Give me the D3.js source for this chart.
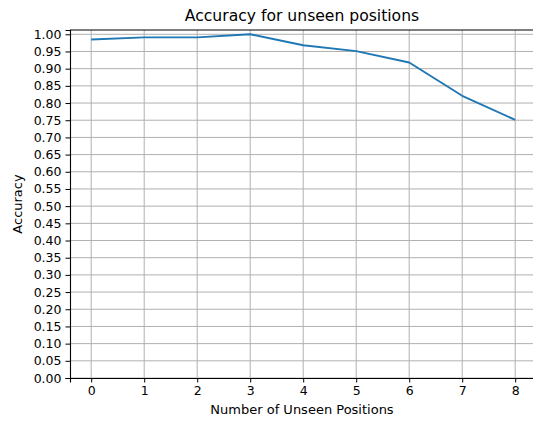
<!DOCTYPE html>
<html>
<head>
<meta charset="utf-8">
<script src="https://cdn.jsdelivr.net/npm/d3@7"></script>
<style>
  body { margin: 0; background: white; }
  text { font-family: "DejaVu Sans", sans-serif; fill: #000; }
</style>
</head>
<body>
<div id="chart"></div>
<script>
// data
const positions = [0, 1, 2, 3, 4, 5, 6, 7, 8];
const accuracy = [0.985, 0.991, 0.991, 1.0, 0.968, 0.951, 0.918, 0.821, 0.751];
const yTicks = d3.range(0, 1.0001, 0.05);

const width = 533, height = 423;
const padLeft = 70, padTop = 30, padBottom = 378;

const svg = d3.select("#chart").append("svg")
  .attr("width", width)
  .attr("height", height);

// matplotlib-like: -0.4 .. 8.4, spine beyond the picture on the right
const x = d3.scaleLinear().domain([-0.4, 8.4]).range([padLeft, padLeft + 8.8 * 53]);
const y = d3.scaleLinear().domain([0, 1.0125]).range([padBottom, padTop]);

const grid = svg.append("g");
grid.selectAll(".vg")
  .data(positions)
  .enter()
  .append("line")
    .attr("x1", d => x(d)).attr("x2", d => x(d))
    .attr("y1", padTop).attr("y2", padBottom)
    .attr("stroke", "#b0b0b0")
    .attr("stroke-width", 1);
grid.selectAll(".hg")
  .data(yTicks)
  .enter()
  .append("line")
    .attr("x1", padLeft).attr("x2", width)
    .attr("y1", d => y(d)).attr("y2", d => y(d))
    .attr("stroke", "#b0b0b0")
    .attr("stroke-width", 1);

const line = d3.line()
  .x((d, i) => x(positions[i]))
  .y(d => y(d));

svg.append("path")
  .datum(accuracy)
  .attr("d", line)
  .attr("fill", "none")
  .attr("stroke", "#1f77b4")
  .attr("stroke-width", 1.9)
  .attr("stroke-linejoin", "round");

// axes
const xAxis = svg.append("g")
  .attr("transform", "translate(0," + padBottom + ")")
  .call(d3.axisBottom(x).tickValues(positions).tickFormat(d3.format("d")).tickSizeOuter(0).tickSize(4.5).tickPadding(4));
const yAxis = svg.append("g")
  .attr("transform", "translate(" + padLeft + ",0)")
  .call(d3.axisLeft(y).tickValues(yTicks).tickFormat(d3.format(".2f")).tickSizeOuter(0).tickSize(4.5).tickPadding(4));

[xAxis, yAxis].forEach(a => {
  a.select(".domain").attr("stroke", "#000").attr("stroke-width", 1.1);
  a.selectAll(".tick line").attr("stroke", "#000").attr("stroke-width", 1);
  a.selectAll(".tick text").attr("font-family", "DejaVu Sans").attr("font-size", "12.5px").attr("fill", "#000");
});

// top spine
svg.append("line")
  .attr("x1", padLeft).attr("x2", width)
  .attr("y1", padTop).attr("y2", padTop)
  .attr("stroke", "#000").attr("stroke-width", 1.1);

svg.append("text")
  .attr("x", 302)
  .attr("y", 21)
  .attr("text-anchor", "middle")
  .attr("font-size", "15.6px")
  .text("Accuracy for unseen positions");

svg.append("text")
  .attr("x", 302)
  .attr("y", 414)
  .attr("text-anchor", "middle")
  .attr("font-size", "13px")
  .text("Number of Unseen Positions");

svg.append("text")
  .attr("transform", "translate(22," + ((padTop + padBottom) / 2) + ") rotate(-90)")
  .attr("text-anchor", "middle")
  .attr("font-size", "13px")
  .text("Accuracy");
</script>
</body>
</html>
